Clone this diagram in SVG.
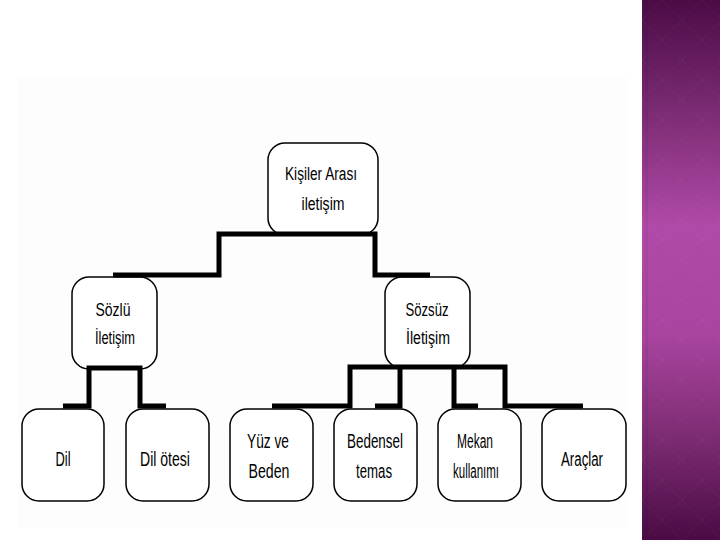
<svg xmlns="http://www.w3.org/2000/svg" width="720" height="540" viewBox="0 0 720 540">
<defs>
<linearGradient id="strip" x1="0" y1="0" x2="0" y2="1">
<stop offset="0" stop-color="#4b0c46"/>
<stop offset="0.2" stop-color="#7a2a72"/>
<stop offset="0.42" stop-color="#b04aa8"/>
<stop offset="0.62" stop-color="#a9449f"/>
<stop offset="0.82" stop-color="#7a2a70"/>
<stop offset="1" stop-color="#4a0b44"/>
</linearGradient>
<pattern id="diam" width="40" height="40" patternUnits="userSpaceOnUse" x="642" y="0">
<path d="M0,20 L20,0 L40,20 L20,40 Z" fill="none" stroke="#ffffff" stroke-opacity="0.035" stroke-width="1"/>
</pattern>
<style>
.box{fill:#ffffff;stroke:#000000;stroke-width:1.5}
.conn{fill:none;stroke:#000000;stroke-width:5;stroke-linejoin:miter}
.t{font-family:"Liberation Sans",Arial,sans-serif;fill:#000000;text-anchor:middle}
.m{font-size:18px}
.b{font-size:20px}
</style>
</defs>
<rect x="0" y="0" width="720" height="540" fill="#ffffff"/>
<rect x="18" y="78" width="610" height="450" fill="#fdfdfd"/>
<rect x="642" y="0" width="78" height="540" fill="url(#strip)"/>
<rect x="642" y="0" width="78" height="540" fill="url(#diam)"/>
<rect x="645" y="0" width="3" height="540" fill="#000000" fill-opacity="0.05"/>

<g id="n-kisiler">
<rect class="box" x="268" y="143" width="110" height="92" rx="17"/>
<text class="t m" x="321" y="180" textLength="72" lengthAdjust="spacingAndGlyphs">Kişiler Arası</text>
<text class="t m" x="323" y="210" textLength="43" lengthAdjust="spacingAndGlyphs">iletişim</text>
</g>
<g id="n-sozlu">
<rect class="box" x="72" y="277" width="85" height="92" rx="17"/>
<text class="t m" x="113" y="316" textLength="35" lengthAdjust="spacingAndGlyphs">Sözlü</text>
<text class="t m" x="115" y="344" textLength="40" lengthAdjust="spacingAndGlyphs">İletişim</text>
</g>
<g id="n-sozsuz">
<rect class="box" x="385" y="277" width="85" height="91" rx="17"/>
<text class="t m" x="427" y="316" textLength="43" lengthAdjust="spacingAndGlyphs">Sözsüz</text>
<text class="t m" x="428" y="344" textLength="44" lengthAdjust="spacingAndGlyphs">İletişim</text>
</g>
<g id="n-dil">
<rect class="box" x="22" y="409" width="82" height="92" rx="17"/>
<text class="t b" x="63" y="466" textLength="15" lengthAdjust="spacingAndGlyphs">Dil</text>
</g>
<g id="n-dilotesi">
<rect class="box" x="126" y="409" width="83" height="92" rx="17"/>
<text class="t b" x="165" y="466" textLength="50" lengthAdjust="spacingAndGlyphs">Dil ötesi</text>
</g>
<g id="n-yuz">
<rect class="box" x="230" y="409" width="83" height="92" rx="17"/>
<text class="t b" x="268" y="448" textLength="42" lengthAdjust="spacingAndGlyphs">Yüz ve</text>
<text class="t b" x="269" y="478" textLength="41" lengthAdjust="spacingAndGlyphs">Beden</text>
</g>
<g id="n-bedensel">
<rect class="box" x="334" y="409" width="83" height="92" rx="17"/>
<text class="t b" x="375" y="448" textLength="56" lengthAdjust="spacingAndGlyphs">Bedensel</text>
<text class="t b" x="374" y="478" textLength="36" lengthAdjust="spacingAndGlyphs">temas</text>
</g>
<g id="n-mekan">
<rect class="box" x="438" y="409" width="83" height="92" rx="17"/>
<text class="t b" x="475" y="448" textLength="36" lengthAdjust="spacingAndGlyphs">Mekan</text>
<text class="t b" x="476" y="478" textLength="46" lengthAdjust="spacingAndGlyphs">kullanımı</text>
</g>
<g id="n-araclar">
<rect class="box" x="542" y="409" width="84" height="92" rx="17"/>
<text class="t b" x="582" y="466" textLength="42" lengthAdjust="spacingAndGlyphs">Araçlar</text>
</g>

<g id="connectors">
<path class="conn" d="M113,275 H219 V234 H322"/>
<path class="conn" d="M322,234 H375 V275 H430"/>
<path class="conn" d="M63,406 H89 V368 H140 V406 H166"/>
<path class="conn" d="M272,406 H350 V367 H505 V406 H583"/>
<path class="conn" d="M375,406 H400 V367"/>
<path class="conn" d="M478,406 H454 V367"/>
</g>
</svg>
